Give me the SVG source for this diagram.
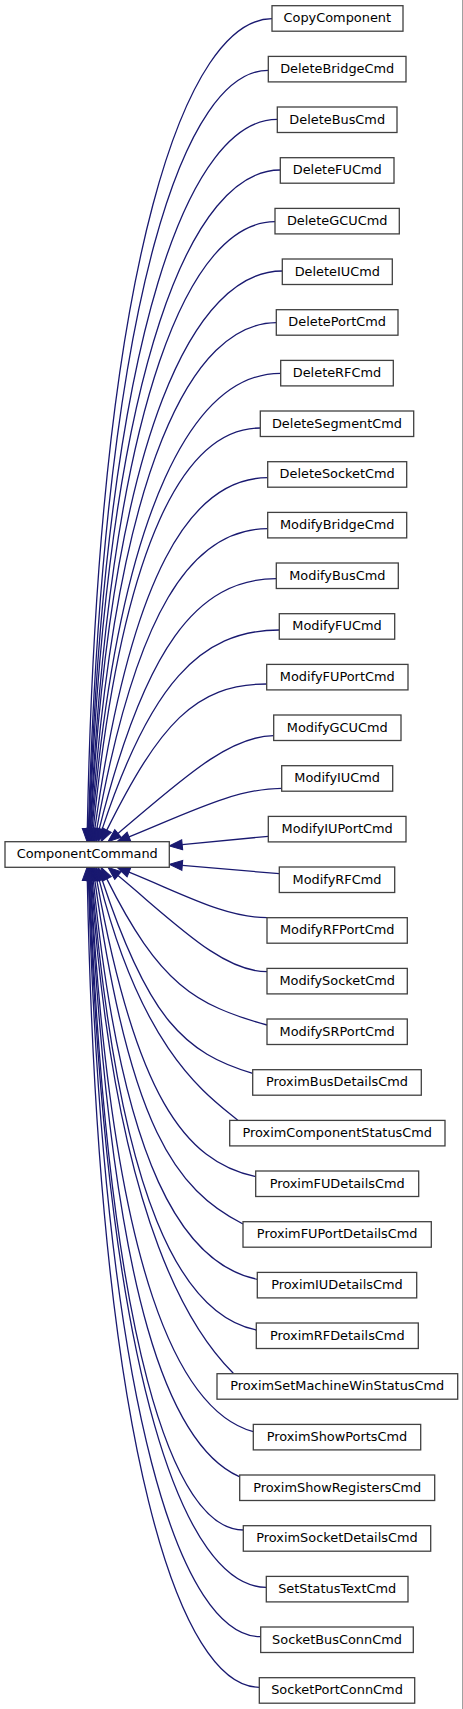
<svg xmlns="http://www.w3.org/2000/svg" width="463" height="1709" viewBox="0 0 463 1709">
<style>
.n rect{fill:#ffffff;stroke:#404040;stroke-width:1.3}
.n text{font-family:"DejaVu Sans","Liberation Sans",sans-serif;font-size:12.9px;fill:#000000;text-anchor:middle}
.e path{fill:none;stroke:#191970;stroke-width:1.3;marker-end:url(#ah)}
</style>
<defs>
<marker id="ah" markerUnits="userSpaceOnUse" markerWidth="15" markerHeight="12" refX="0" refY="5" orient="auto" overflow="visible">
<path d="M0,0 L13,5 L0,10 Z" fill="#191970" stroke="#191970" stroke-width="1"/>
</marker>
</defs>
<rect x="0" y="0" width="463" height="1709" fill="#ffffff"/>
<line x1="462.5" y1="0" x2="462.5" y2="1709" stroke="#a0a0a0" stroke-width="1"/>
<g class="e" id="edges">
<path d="M272,18.7 C188.9,18.7 98.9,245.5 87.3,828.7"/>
<path d="M268.3,70.3 C187.3,70.3 104.8,282.7 88.4,828.7"/>
<path d="M277.3,119.3 C192.5,119.3 106.8,317.9 89,828.7"/>
<path d="M280.3,170 C194.4,170 108.5,354.4 89.5,828.7"/>
<path d="M275,221.7 C191.8,221.7 112,391.7 90.2,828.7"/>
<path d="M282.3,271 C196.1,271 112.8,427.2 90.7,828.7"/>
<path d="M276.3,322.7 C193.1,322.7 116.9,464.4 91.4,828.7"/>
<path d="M280.7,373.3 C195.8,373.3 120,500.9 92.1,828.8"/>
<path d="M260.3,428 C185.1,428 122.2,540.2 93.3,828.8"/>
<path d="M267.7,477.7 C189.9,477.7 130.2,576 94.8,828.8"/>
<path d="M267.7,528.7 C190.8,528.7 135.7,612.8 96.8,828.9"/>
<path d="M276.3,578.7 C196.6,578.7 144.2,648.8 99.2,829.1"/>
<path d="M279.3,630 C199.6,630 149.5,685.8 102.1,829.4"/>
<path d="M266.7,684 C194.7,684 159.4,724.9 106.8,830.1"/>
<path d="M273.7,735.7 C227,735.7 176.6,784.5 118,833.4"/>
<path d="M281.7,788.3 C235.9,788.3 188.7,812.6 129,836.8"/>
<path d="M268.3,836.3 L182.2,844.7"/>
<path d="M279.3,873.7 L182.3,865.4"/>
<path d="M267,917.7 C225.6,917.7 185,895 129,872.2"/>
<path d="M267,971.7 C222.3,971.7 175.7,923.6 118,875.6"/>
<path d="M267,1025 C194.9,1005 159.4,984.1 106.8,878.9"/>
<path d="M252.7,1073.3 C184.9,1053.3 148.1,1019.1 102.1,879.7"/>
<path d="M238.3,1120.7 C208.3,1095.7 142.5,1053.3 99.2,879.9"/>
<path d="M255.7,1176.7 C184.2,1161.7 135.2,1093.7 96.8,880.1"/>
<path d="M243,1224 C176.3,1190 129.5,1127.7 94.8,880.2"/>
<path d="M257.3,1279.3 C183.5,1264.3 122,1167.5 93.3,880.2"/>
<path d="M256.3,1330 C182.4,1315 119.6,1204 92.1,880.3"/>
<path d="M233.3,1373.3 C198.3,1338.3 116.2,1235.3 91.4,880.3"/>
<path d="M253.3,1431.7 C180.1,1411.7 112.5,1277.3 90.7,880.3"/>
<path d="M239.3,1476.7 C172.2,1446.7 111.6,1309.7 90.2,880.3"/>
<path d="M243.3,1530 C174.1,1530 108.2,1348.1 89.5,880.3"/>
<path d="M266.3,1587.3 C186.5,1587.3 106.8,1389.3 89,880.3"/>
<path d="M260.7,1636.7 C183.2,1636.7 104.7,1424.9 88.4,880.3"/>
<path d="M259.3,1687.3 C181.9,1687.3 98.9,1461.3 87.3,880.3"/>
</g>
<g class="n" id="ComponentCommand"><rect x="5" y="841.7" width="164.3" height="25.6"/><text x="87.2" y="858.4">ComponentCommand</text></g>
<g class="n" id="CopyComponent"><rect x="272" y="5.7" width="131" height="25.5"/><text x="337.3" y="22.4">CopyComponent</text></g>
<g class="n" id="DeleteBridgeCmd"><rect x="268.3" y="56.4" width="137.7" height="25.5"/><text x="337.2" y="73.1">DeleteBridgeCmd</text></g>
<g class="n" id="DeleteBusCmd"><rect x="277.3" y="107" width="119.7" height="25.5"/><text x="337.2" y="123.7">DeleteBusCmd</text></g>
<g class="n" id="DeleteFUCmd"><rect x="280.3" y="157.7" width="113.7" height="25.5"/><text x="337.2" y="174.4">DeleteFUCmd</text></g>
<g class="n" id="DeleteGCUCmd"><rect x="275" y="208.4" width="124.3" height="25.5"/><text x="337.2" y="225.1">DeleteGCUCmd</text></g>
<g class="n" id="DeleteIUCmd"><rect x="282.3" y="259" width="110" height="25.5"/><text x="337.3" y="275.7">DeleteIUCmd</text></g>
<g class="n" id="DeletePortCmd"><rect x="276.3" y="309.7" width="121.7" height="25.5"/><text x="337.2" y="326.4">DeletePortCmd</text></g>
<g class="n" id="DeleteRFCmd"><rect x="280.7" y="360.4" width="112.6" height="25.5"/><text x="337" y="377.1">DeleteRFCmd</text></g>
<g class="n" id="DeleteSegmentCmd"><rect x="260.3" y="411" width="153.4" height="25.5"/><text x="337" y="427.7">DeleteSegmentCmd</text></g>
<g class="n" id="DeleteSocketCmd"><rect x="267.7" y="461.7" width="139" height="25.5"/><text x="337.2" y="478.4">DeleteSocketCmd</text></g>
<g class="n" id="ModifyBridgeCmd"><rect x="267.7" y="512.4" width="139" height="25.5"/><text x="337.2" y="529.1">ModifyBridgeCmd</text></g>
<g class="n" id="ModifyBusCmd"><rect x="276.3" y="563" width="122" height="25.5"/><text x="337.3" y="579.7">ModifyBusCmd</text></g>
<g class="n" id="ModifyFUCmd"><rect x="279.3" y="613.7" width="115.4" height="25.5"/><text x="337" y="630.4">ModifyFUCmd</text></g>
<g class="n" id="ModifyFUPortCmd"><rect x="266.7" y="664.4" width="141.3" height="25.5"/><text x="337.3" y="681.1">ModifyFUPortCmd</text></g>
<g class="n" id="ModifyGCUCmd"><rect x="273.7" y="715" width="127.3" height="25.5"/><text x="337.3" y="731.7">ModifyGCUCmd</text></g>
<g class="n" id="ModifyIUCmd"><rect x="281.7" y="765.7" width="111" height="25.5"/><text x="337.2" y="782.4">ModifyIUCmd</text></g>
<g class="n" id="ModifyIUPortCmd"><rect x="268.3" y="816.4" width="137.7" height="25.5"/><text x="337.2" y="833.1">ModifyIUPortCmd</text></g>
<g class="n" id="ModifyRFCmd"><rect x="279.3" y="867" width="115.4" height="25.5"/><text x="337" y="883.7">ModifyRFCmd</text></g>
<g class="n" id="ModifyRFPortCmd"><rect x="267" y="917.7" width="140.3" height="25.5"/><text x="337.2" y="934.4">ModifyRFPortCmd</text></g>
<g class="n" id="ModifySocketCmd"><rect x="267" y="968.4" width="140.3" height="25.5"/><text x="337.2" y="985.1">ModifySocketCmd</text></g>
<g class="n" id="ModifySRPortCmd"><rect x="267" y="1019" width="140.3" height="25.5"/><text x="337.2" y="1035.7">ModifySRPortCmd</text></g>
<g class="n" id="ProximBusDetailsCmd"><rect x="252.7" y="1069.7" width="168.6" height="25.5"/><text x="337" y="1086.4">ProximBusDetailsCmd</text></g>
<g class="n" id="ProximComponentStatusCmd"><rect x="229.7" y="1120.4" width="215.3" height="25.5"/><text x="337.3" y="1137.1">ProximComponentStatusCmd</text></g>
<g class="n" id="ProximFUDetailsCmd"><rect x="255.7" y="1171" width="163" height="25.5"/><text x="337.2" y="1187.7">ProximFUDetailsCmd</text></g>
<g class="n" id="ProximFUPortDetailsCmd"><rect x="243" y="1221.7" width="188.3" height="25.5"/><text x="337.2" y="1238.4">ProximFUPortDetailsCmd</text></g>
<g class="n" id="ProximIUDetailsCmd"><rect x="257.3" y="1272.4" width="159.4" height="25.5"/><text x="337" y="1289.1">ProximIUDetailsCmd</text></g>
<g class="n" id="ProximRFDetailsCmd"><rect x="256.3" y="1323" width="162" height="25.5"/><text x="337.3" y="1339.7">ProximRFDetailsCmd</text></g>
<g class="n" id="ProximSetMachineWinStatusCmd"><rect x="217" y="1373.7" width="240.7" height="25.5"/><text x="337.3" y="1390.4">ProximSetMachineWinStatusCmd</text></g>
<g class="n" id="ProximShowPortsCmd"><rect x="253.3" y="1424.4" width="167.4" height="25.5"/><text x="337" y="1441.1">ProximShowPortsCmd</text></g>
<g class="n" id="ProximShowRegistersCmd"><rect x="239.7" y="1475" width="195" height="25.5"/><text x="337.2" y="1491.7">ProximShowRegistersCmd</text></g>
<g class="n" id="ProximSocketDetailsCmd"><rect x="243.3" y="1525.7" width="187.4" height="25.5"/><text x="337" y="1542.4">ProximSocketDetailsCmd</text></g>
<g class="n" id="SetStatusTextCmd"><rect x="266.3" y="1576.4" width="141.7" height="25.5"/><text x="337.2" y="1593.1">SetStatusTextCmd</text></g>
<g class="n" id="SocketBusConnCmd"><rect x="260.7" y="1627" width="152.6" height="25.5"/><text x="337" y="1643.7">SocketBusConnCmd</text></g>
<g class="n" id="SocketPortConnCmd"><rect x="259.3" y="1677.7" width="155.4" height="25.5"/><text x="337" y="1694.4">SocketPortConnCmd</text></g>
</svg>
